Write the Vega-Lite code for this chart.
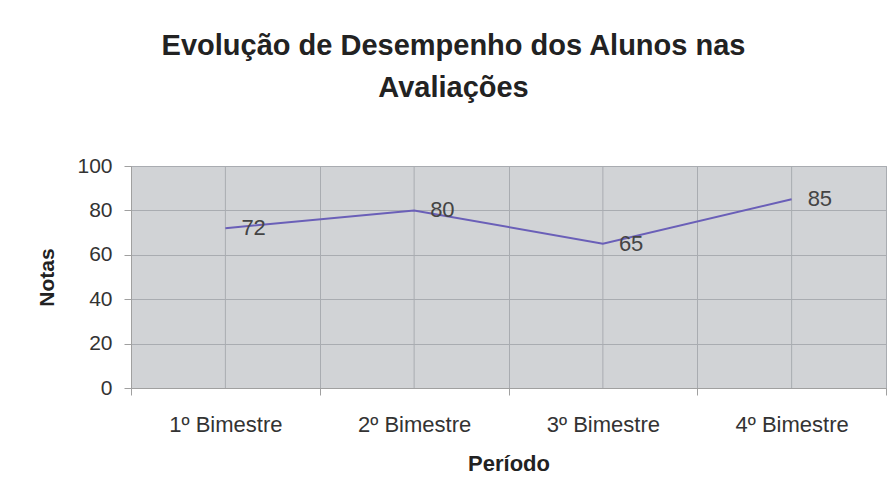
{
  "$schema": "https://vega.github.io/schema/vega-lite/v6.json",
  "width": 755,
  "height": 222,
  "autosize": {"type": "none"},
  "padding": {"left": 131, "top": 166, "right": 8, "bottom": 116},
  "background": "white",
  "title": {
    "text": ["Evolução de Desempenho dos Alunos nas", "Avaliações"],
    "font": "Liberation Sans",
    "fontSize": 29,
    "fontWeight": "bold",
    "color": "#222222",
    "lineHeight": 42,
    "anchor": "middle",
    "frame": "group",
    "dx": -55,
    "offset": 52
  },
  "data": {
    "values": [
      {"periodo": "1º Bimestre", "nota": 72},
      {"periodo": "2º Bimestre", "nota": 80},
      {"periodo": "3º Bimestre", "nota": 65},
      {"periodo": "4º Bimestre", "nota": 85}
    ]
  },
  "encoding": {
    "x": {
      "field": "periodo",
      "type": "nominal",
      "sort": null,
      "scale": {"type": "band", "paddingInner": 0, "paddingOuter": 0},
      "axis": {
        "title": "Período",
        "labelAngle": 0,
        "tickBand": "extent",
        "grid": true,
        "gridColor": "#a9acb1",
        "gridOpacity": 1,
        "tickColor": "#a0a0a0",
        "tickSize": 7,
        "domainColor": "#a0a0a0",
        "labelFont": "Liberation Sans",
        "labelFontSize": 22,
        "labelColor": "#333333",
        "labelPadding": 19,
        "titleFont": "Liberation Sans",
        "titleFontSize": 22,
        "titleFontWeight": "bold",
        "titleColor": "#222222",
        "titlePadding": 18
      }
    }
  },
  "layer": [
    {
      "mark": {"type": "rule", "color": "#a9acb1", "strokeWidth": 1},
      "encoding": {}
    },
    {
      "mark": {"type": "line", "color": "#6a5fb8", "strokeWidth": 2},
      "encoding": {
        "y": {
          "field": "nota",
          "type": "quantitative",
          "scale": {"domain": [0, 100]},
          "axis": {
            "title": "Notas",
            "values": [0, 20, 40, 60, 80, 100],
            "grid": true,
            "gridColor": "#a9acb1",
            "gridOpacity": 1,
            "tickColor": "#a0a0a0",
            "tickSize": 7,
            "domainColor": "#a0a0a0",
            "labelFont": "Liberation Sans",
            "labelFontSize": 21,
            "labelColor": "#333333",
            "labelPadding": 12,
            "titleFont": "Liberation Sans",
            "titleFontSize": 21,
            "titleFontWeight": "bold",
            "titleColor": "#222222",
            "titlePadding": 19
          }
        }
      }
    },
    {
      "mark": {"type": "text", "align": "left", "baseline": "middle", "dx": 16, "font": "Liberation Sans", "fontSize": 22, "color": "#444444"},
      "encoding": {
        "y": {"field": "nota", "type": "quantitative"},
        "text": {"field": "nota", "type": "quantitative"}
      }
    }
  ],
  "config": {
    "view": {"fill": "#d1d3d6", "stroke": "#a0a0a0", "strokeWidth": 1}
  }
}
